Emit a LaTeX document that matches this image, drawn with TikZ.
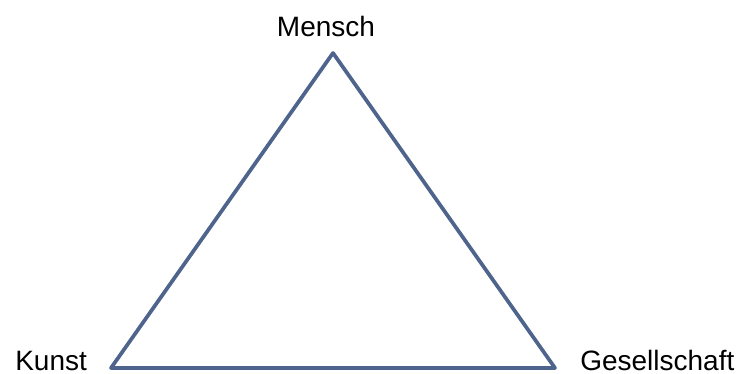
\documentclass[tikz,border=0pt]{standalone}
\usepackage{fontspec}
\setmainfont{Liberation Sans}
\begin{document}
\begin{tikzpicture}[x=0.75pt,y=-0.75pt,
  lbl/.style={font=\fontsize{21}{25}\selectfont, inner sep=0pt},
  edge/.style={draw={rgb,255:red,79;green,100;blue,140}, line width=2.8pt, line join=round}]
\useasboundingbox (0,0) rectangle (741,374);
\coordinate (top) at (333,53);
\coordinate (bl) at (111,368);
\coordinate (br) at (555,368);
\draw[edge] (top) -- (br) -- (bl) -- cycle;
\node[lbl, anchor=base] (mensch) at (326,37) {Mensch};
\node[lbl, anchor=base west] (kunst) at (15,370) {Kunst};
\node[lbl, anchor=base west] (ges) at (580,370) {Gesellschaft};
\end{tikzpicture}
\end{document}
